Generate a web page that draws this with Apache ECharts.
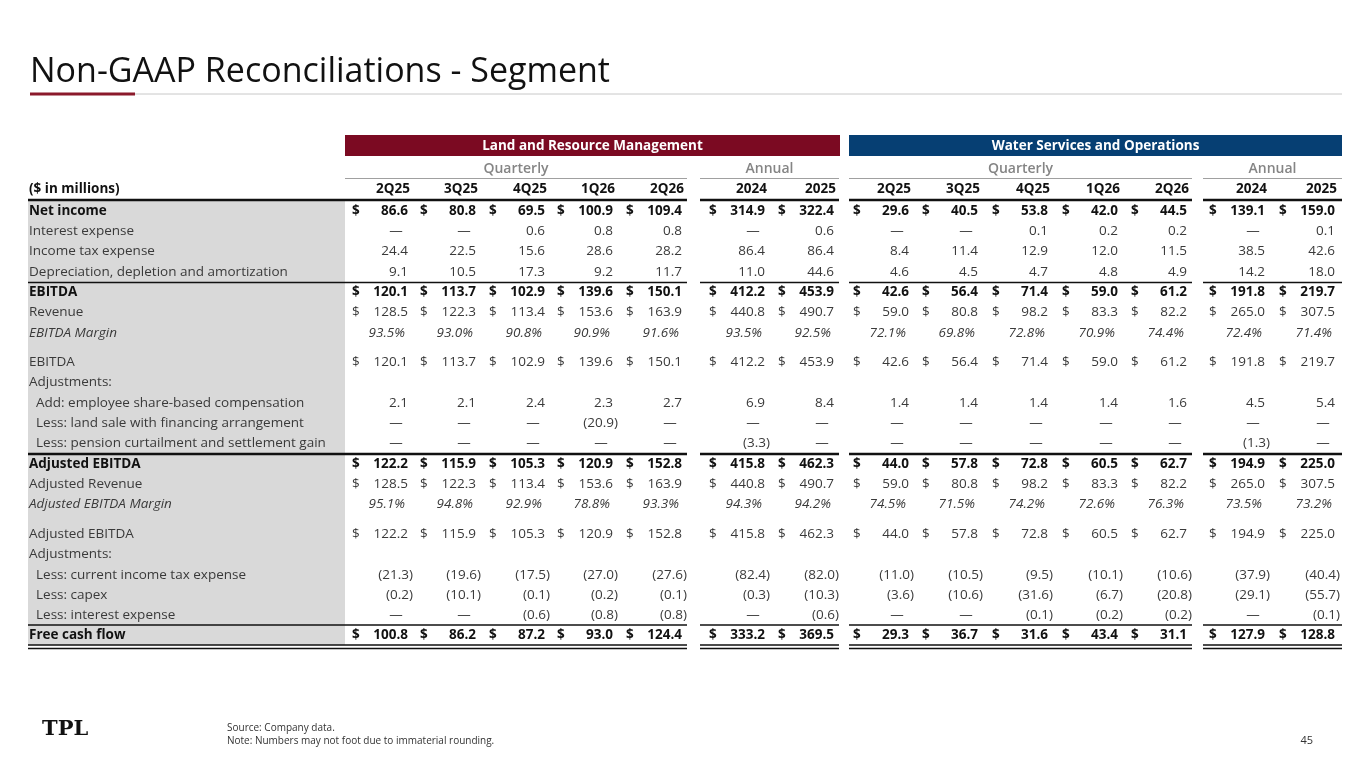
<!DOCTYPE html>
<html><head><meta charset="utf-8">
<script src="https://cdn.jsdelivr.net/npm/echarts@6/dist/echarts.min.js"></script>
<style>html,body{margin:0;padding:0;background:#fff}#c{width:1365px;height:768px}</style>
</head><body><div id="c"></div>
<script>
// ---------- DATA ----------
const segments = ['Land and Resource Management', 'Water Services and Operations'];
const periodGroups = ['Quarterly', 'Annual', 'Quarterly', 'Annual'];
const columns = ['2Q25','3Q25','4Q25','1Q26','2Q26','2024','2025','2Q25','3Q25','4Q25','1Q26','2Q26','2024','2025'];
const rowLabels = ['Net income','Interest expense','Income tax expense','Depreciation, depletion and amortization',
  'EBITDA','Revenue','EBITDA Margin','EBITDA','Adjustments:','Add: employee share-based compensation',
  'Less: land sale with financing arrangement','Less: pension curtailment and settlement gain','Adjusted EBITDA',
  'Adjusted Revenue','Adjusted EBITDA Margin','Adjusted EBITDA','Adjustments:','Less: current income tax expense',
  'Less: capex','Less: interest expense','Free cash flow'];
const netIncome = ['86.6','80.8','69.5','100.9','109.4','314.9','322.4','29.6','40.5','53.8','42.0','44.5','139.1','159.0'];
const interestExpense = ['—','—','0.6','0.8','0.8','—','0.6','—','—','0.1','0.2','0.2','—','0.1'];
const incomeTax = ['24.4','22.5','15.6','28.6','28.2','86.4','86.4','8.4','11.4','12.9','12.0','11.5','38.5','42.6'];
const dda = ['9.1','10.5','17.3','9.2','11.7','11.0','44.6','4.6','4.5','4.7','4.8','4.9','14.2','18.0'];
const ebitda = ['120.1','113.7','102.9','139.6','150.1','412.2','453.9','42.6','56.4','71.4','59.0','61.2','191.8','219.7'];
const revenue = ['128.5','122.3','113.4','153.6','163.9','440.8','490.7','59.0','80.8','98.2','83.3','82.2','265.0','307.5'];
const ebitdaMargin = ['93.5%','93.0%','90.8%','90.9%','91.6%','93.5%','92.5%','72.1%','69.8%','72.8%','70.9%','74.4%','72.4%','71.4%'];
const sbc = ['2.1','2.1','2.4','2.3','2.7','6.9','8.4','1.4','1.4','1.4','1.4','1.6','4.5','5.4'];
const landSale = ['—','—','—','(20.9)','—','—','—','—','—','—','—','—','—','—'];
const pension = ['—','—','—','—','—','(3.3)','—','—','—','—','—','—','(1.3)','—'];
const adjEbitda = ['122.2','115.9','105.3','120.9','152.8','415.8','462.3','44.0','57.8','72.8','60.5','62.7','194.9','225.0'];
const adjRevenue = ['128.5','122.3','113.4','153.6','163.9','440.8','490.7','59.0','80.8','98.2','83.3','82.2','265.0','307.5'];
const adjMargin = ['95.1%','94.8%','92.9%','78.8%','93.3%','94.3%','94.2%','74.5%','71.5%','74.2%','72.6%','76.3%','73.5%','73.2%'];
const currentTax = ['(21.3)','(19.6)','(17.5)','(27.0)','(27.6)','(82.4)','(82.0)','(11.0)','(10.5)','(9.5)','(10.1)','(10.6)','(37.9)','(40.4)'];
const capex = ['(0.2)','(10.1)','(0.1)','(0.2)','(0.1)','(0.3)','(10.3)','(3.6)','(10.6)','(31.6)','(6.7)','(20.8)','(29.1)','(55.7)'];
const interestPaid = ['—','—','(0.6)','(0.8)','(0.8)','—','(0.6)','—','—','(0.1)','(0.2)','(0.2)','—','(0.1)'];
const freeCashFlow = ['100.8','86.2','87.2','93.0','124.4','333.2','369.5','29.3','36.7','31.6','43.4','31.1','127.9','128.8'];
const rowValues = [netIncome, interestExpense, incomeTax, dda, ebitda, revenue, ebitdaMargin, ebitda, null, sbc,
  landSale, pension, adjEbitda, adjRevenue, adjMargin, adjEbitda, null, currentTax, capex, interestPaid, freeCashFlow];

// ---------- LAYOUT / STYLE ----------
const colEdge = [413,481,550,618,687,770,839,914,983,1053,1123,1192,1270,1340];
const rowY = [211,231,251,272,292,312,333,362,382,403,423,443,464,484,504,534,554,575,595,615,635];
const dollarRows = [0,4,5,7,12,13,15,20];
const boldRows = [0,4,12,20];
const italicRows = [6,14];
const indentRows = [9,10,11,17,18,19];
const FONT = '"Open Sans", "Liberation Sans", sans-serif';
const FS = '13.5px ';

const cellData = [];
rowLabels.forEach((l, r) => {
  cellData.push([-1, r]);
  if (rowValues[r]) rowValues[r].forEach((v, c) => cellData.push([c, r]));
});

function renderItem(params, api) {
  const c = api.value(0), r = api.value(1);
  const bold = boldRows.includes(r), italic = italicRows.includes(r);
  const color = bold ? '#111' : '#3a3a3a';
  const fw = bold ? 'bold ' : 'normal ';
  if (c === -1) {
    const p = api.coord([indentRows.includes(r) ? 36 : 29, rowY[r]]);
    return {type:'text', style:{text: rowLabels[r], x:p[0], y:p[1], verticalAlign:'middle', align:'left',
      font: (italic?'italic ':'') + fw + FS + FONT, fill: color}};
  }
  const v = rowValues[r][c];
  let off = 0, align = 'right';
  if (v === '—') { off = -17; align = 'center'; }
  else if (v.endsWith('%')) off = -8;
  else if (!v.startsWith('(')) off = -5;
  const p = api.coord([colEdge[c] + off, rowY[r]]);
  const children = [{type:'text', style:{text:v, x:p[0], y:p[1], align, verticalAlign:'middle',
    font:(italic?'italic ':'') + fw + FS + FONT, fill: color}}];
  if (dollarRows.includes(r)) {
    const d = api.coord([colEdge[c] - 61, rowY[r]]);
    children.push({type:'text', style:{text:'$', x:d[0], y:d[1], align:'left', verticalAlign:'middle',
      font: fw + FS + FONT, fill: color}});
  }
  return {type:'group', children};
}

// header / decorations
const graphic = [];
const segs = [[28,687],[700,839],[849,1192],[1203,1342]];
const hline = (x1,x2,y,w,col) => graphic.push({type:'line', shape:{x1,y1:y,x2,y2:y}, style:{stroke:col||'#111', lineWidth:w}, z:10});
graphic.push({type:'rect', shape:{x:28,y:201,width:317,height:444}, style:{fill:'#d9d9d9'}, z:0});
graphic.push({type:'text', style:{text:'Non-GAAP Reconciliations - Segment', x:30, y:72, verticalAlign:'middle', font:'normal 34px ' + FONT, fill:'#111'}});
graphic.push({type:'line', shape:{x1:30,y1:94,x2:1342,y2:94}, style:{stroke:'#c8c8c8', lineWidth:1}});
graphic.push({type:'line', shape:{x1:30,y1:94,x2:135,y2:94}, style:{stroke:'#8b1a2b', lineWidth:3}});
const bars = [[345,840,'#7b0a22'],[849,1342,'#063f73']];
bars.forEach((b,i) => {
  graphic.push({type:'rect', shape:{x:b[0],y:135,width:b[1]-b[0],height:21}, style:{fill:b[2]}});
  graphic.push({type:'text', style:{text:segments[i], x:(b[0]+b[1])/2, y:146, align:'center', verticalAlign:'middle', font:'bold 13.5px ' + FONT, fill:'#fff'}});
});
const groupSpans = [[345,687],[700,839],[849,1192],[1203,1342]];
groupSpans.forEach((g,i) => {
  graphic.push({type:'text', style:{text:periodGroups[i], x:(g[0]+g[1])/2, y:169, align:'center', verticalAlign:'middle', font:'600 14px ' + FONT, fill:'#858585'}});
  hline(g[0], g[1], 178.5, 1, '#a0a0a0');
});
graphic.push({type:'text', style:{text:'($ in millions)', x:29, y:189, verticalAlign:'middle', font:'bold 13.5px ' + FONT, fill:'#111'}});
columns.forEach((c,i) => graphic.push({type:'text', style:{text:c, x:colEdge[i]-3, y:189, align:'right', verticalAlign:'middle', font:'bold 13.5px ' + FONT, fill:'#111'}}));
segs.forEach(s => { hline(s[0],s[1],200,2.5); hline(s[0],s[1],282.5,1.5); hline(s[0],s[1],454,2.5); hline(s[0],s[1],625,1.5); hline(s[0],s[1],645,1.5); hline(s[0],s[1],648.5,1.5); });
graphic.push({type:'text', style:{text:'TPL', x:42, y:730, verticalAlign:'middle', font:'900 21px "DejaVu Serif", serif', fill:'#111'}});
graphic.push({type:'text', style:{text:'Source: Company data.', x:227, y:728, verticalAlign:'middle', font:'normal 10px ' + FONT, fill:'#333'}});
graphic.push({type:'text', style:{text:'Note: Numbers may not foot due to immaterial rounding.', x:227, y:741, verticalAlign:'middle', font:'normal 10px ' + FONT, fill:'#333'}});
graphic.push({type:'text', style:{text:'45', x:1313, y:741, align:'right', verticalAlign:'middle', font:'normal 11px ' + FONT, fill:'#333'}});

const chart = echarts.init(document.getElementById('c'));
chart.setOption({
  animation:false,
  grid:{left:0,right:0,top:0,bottom:0},
  xAxis:{type:'value', min:0, max:1365, show:false},
  yAxis:{type:'value', min:0, max:768, inverse:true, show:false},
  graphic,
  series:[{type:'custom', renderItem, data:cellData, z:20, silent:true}]
});
</script></body></html>
